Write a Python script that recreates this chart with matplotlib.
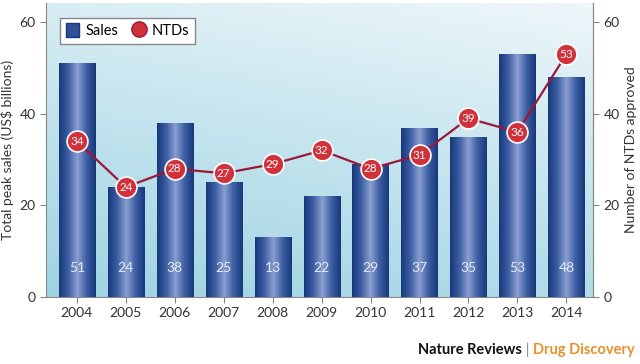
import numpy as np
import matplotlib.pyplot as plt
from matplotlib.colors import LinearSegmentedColormap
from matplotlib.lines import Line2D
from matplotlib.patches import Patch

plt.rcParams['font.family'] = ['Lato', 'DejaVu Sans']

years = ['2004', '2005', '2006', '2007', '2008', '2009', '2010', '2011', '2012', '2013', '2014']
sales = [51, 24, 38, 25, 13, 22, 29, 37, 35, 53, 48]
ntds = [34, 24, 28, 27, 29, 32, 28, 31, 39, 36, 53]

fig = plt.figure(figsize=(6.4, 3.64), dpi=100)
ax = fig.add_axes([0.072, 0.184, 0.855, 0.808])
x = np.arange(len(years))
ax.set_xlim(-0.63, 10.55)
ax.set_ylim(0, 64.2)

# background gradient
bg = LinearSegmentedColormap.from_list('bg', ['#9fd3e2', '#c4e4ee', '#eef7fa'])
gy, gx = np.mgrid[0:1:200j, 0:1:200j]
ax.imshow(0.75 * gy + 0.25 * gx, cmap=bg, origin='lower', aspect='auto',
          extent=(-0.63, 10.55, 0, 64.2), zorder=0)

# bars with cylinder shading
bars = ax.bar(x, sales, width=0.74, color='#23478a', zorder=2)
shade = LinearSegmentedColormap.from_list('bar', ['#17387a', '#3c5ea3', '#8a9fd0', '#3c5ea3', '#17387a'])
strip = np.linspace(0, 1, 100).reshape(1, -1)
for b in bars:
    im = ax.imshow(strip, cmap=shade, aspect='auto', zorder=3,
                   extent=(b.get_x(), b.get_x() + b.get_width(), 0, b.get_height()))
    im.set_clip_path(b)
for xi, v in zip(x, sales):
    ax.text(xi, 6.3, str(v), ha='center', va='center', color='#e4eaf7', fontsize=10, zorder=4)

# NTDs line
ax.plot(x, ntds, color='#9c1838', lw=1.6, zorder=5)
ax.plot(x, ntds, 'o', ms=15, mfc='#d0313a', mec='white', mew=1.2, zorder=6)
for xi, v in zip(x, ntds):
    ax.text(xi, v, str(v), ha='center', va='center', color='white', fontsize=8.5, zorder=7)

ax.set_xticks(x)
ax.set_xticklabels(years)
ax.set_yticks([0, 20, 40, 60])
ax.tick_params(colors='#333333', labelsize=10, length=4, color='#888888')
ax.spines['top'].set_visible(False)
for s in ['left', 'bottom', 'right']:
    ax.spines[s].set_color('#888888')
ax.set_ylabel('Total peak sales (US$ billions)', fontsize=10, color='#333333')

ax2 = ax.twinx()
ax2.set_ylim(0, 64.2)
ax2.set_yticks([0, 20, 40, 60])
ax2.tick_params(colors='#333333', labelsize=10, length=4, color='#888888')
for s in ['top', 'left', 'bottom']:
    ax2.spines[s].set_visible(False)
ax2.spines['right'].set_color('#888888')
ax2.set_ylabel('Number of NTDs approved', fontsize=10, color='#333333')

handles = [Patch(facecolor='#2d5096', edgecolor='#17387a'),
           Line2D([], [], marker='o', ls='none', ms=11, mfc='#d0313a', mec='#9c1838')]
leg = ax.legend(handles, ['Sales', 'NTDs'], loc='upper left', ncol=2, fontsize=10.5,
                frameon=True, fancybox=False, edgecolor='#888888', framealpha=1,
                handlelength=0.9, handleheight=1.1, handletextpad=0.4, columnspacing=1.0,
                bbox_to_anchor=(0.013, 0.975))
leg.set_zorder(10)

t1 = fig.text(0.992, 0.02, 'Drug Discovery', ha='right', va='bottom', color='#e8902a',
              fontsize=10.5, fontweight='bold')
t2 = fig.text(0, 0, ' | ', ha='right', va='bottom', color='#888888', fontsize=10.5)
t2.set_visible(False)
t3 = ax.annotate(' | ', xy=(0, 0), xycoords=t1, ha='right', va='bottom',
                 color='#888888', fontsize=10.5, annotation_clip=False)
ax.annotate('Nature Reviews', xy=(0, 0), xycoords=t3, ha='right', va='bottom',
            color='#111111', fontsize=10.5, fontweight='bold', annotation_clip=False)

fig.savefig('out.png', dpi=100)
